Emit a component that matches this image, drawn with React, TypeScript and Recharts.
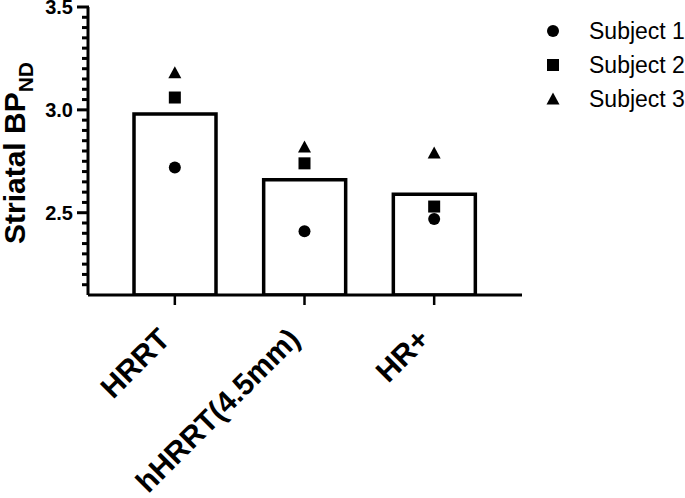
import React from 'react';
import {
  ComposedChart,
  Bar,
  Scatter,
  XAxis,
  YAxis,
  Legend,
} from 'recharts';

const categories = ['HRRT', 'hHRRT(4.5mm)', 'HR+'];
const meanValues = [2.98, 2.66, 2.59];
const subject1 = [2.72, 2.41, 2.47];
const subject2 = [3.06, 2.74, 2.53];
const subject3 = [3.18, 2.82, 2.79];

const yTicks = [
  2.15, 2.2, 2.25, 2.3, 2.35, 2.4, 2.45, 2.5, 2.55, 2.6, 2.65, 2.7, 2.75, 2.8,
  2.85, 2.9, 2.95, 3.0, 3.05, 3.1, 3.15, 3.2, 3.25, 3.3, 3.35, 3.4, 3.45, 3.5,
];
const majorTicks = [2.5, 3.0, 3.5];
const legendLabels = ['Subject 1', 'Subject 2', 'Subject 3'];

const FONT = '"Liberation Sans", Arial, Helvetica, sans-serif';

const data = categories.map((name, i) => ({
  name,
  mean: meanValues[i],
  s1: subject1[i],
  s2: subject2[i],
  s3: subject3[i],
}));

const isMajor = (v: number) => majorTicks.some((m) => Math.abs(m - v) < 1e-6);

// marker shapes
const CircleMark = ({ cx, cy }: any) => <circle cx={cx} cy={cy} r={6} fill="#000" />;
const SquareMark = ({ cx, cy }: any) => (
  <rect x={cx - 6} y={cy - 6} width={12} height={12} fill="#000" />
);
const TriangleMark = ({ cx, cy }: any) => (
  <path d={`M${cx},${cy - 6.5} L${cx + 6.5},${cy + 5.5} L${cx - 6.5},${cy + 5.5} Z`} fill="#000" />
);
const markers = [CircleMark, SquareMark, TriangleMark];

// long labelled major ticks, short minor ticks every 0.05
const renderYTick = (props: any) => {
  const x = Number(props.x);
  const y = Number(props.y);
  const value = Number(props.payload.value);
  const major = isMajor(value);
  const len = major ? 11 : 6;
  return (
    <g key={`yt-${value}`}>
      <rect x={x + 15 - len} y={y - 1.5} width={len + 1} height={3} fill="#000" />
      {major && (
        <text
          x={x}
          y={y}
          dy={7}
          textAnchor="end"
          fontFamily={FONT}
          fontWeight="bold"
          fontSize={20}
          fill="#000"
        >
          {value.toFixed(1)}
        </text>
      )}
    </g>
  );
};

const renderXTick = (props: any) => {
  const x = Number(props.x);
  const y = Number(props.y);
  return (
    <text
      key={`xt-${props.payload.value}`}
      transform={`translate(${x - 3}, ${y + 34}) rotate(-45)`}
      textAnchor="end"
      fontFamily={FONT}
      fontWeight="bold"
      fontSize={30}
      fill="#000"
    >
      {props.payload.value}
    </text>
  );
};

const YLabel = ({ viewBox }: any) => {
  const cx = viewBox.x + 25;
  const cy = viewBox.y + viewBox.height / 2 + 2;
  return (
    <text
      transform={`translate(${cx}, ${cy}) rotate(-90)`}
      textAnchor="middle"
      fontFamily={FONT}
      fontWeight="bold"
      fontSize={30}
      fill="#000"
    >
      Striatal BP
      <tspan fontSize={21} dy={8}>
        ND
      </tspan>
    </text>
  );
};

const LegendContent = () => (
  <div style={{ fontFamily: FONT, fontSize: 23, color: '#000' }}>
    {legendLabels.map((label, i) => {
      const Mark = markers[i];
      return (
        <div key={label} style={{ display: 'flex', alignItems: 'center', height: 34 }}>
          <svg width={26} height={20} style={{ marginRight: 23 }}>
            <Mark cx={13} cy={10} />
          </svg>
          <span>{label}</span>
        </div>
      );
    })}
  </div>
);

export default function App() {
  return (
    <div style={{ position: 'absolute', left: 0, top: 0, background: '#fff' }}>
      <ComposedChart
        width={685}
        height={498}
        data={data}
        margin={{ top: 7, right: 163, bottom: 0, left: 0 }}
      >
        <XAxis
          dataKey="name"
          height={203}
          padding={{ left: 22, right: 23 }}
          axisLine={{ stroke: '#000', strokeWidth: 3 }}
          tickLine={{ stroke: '#000', strokeWidth: 2.5 }}
          tickSize={10}
          tick={renderXTick}
          interval={0}
        />
        <YAxis
          width={88}
          domain={[2.1, 3.5]}
          ticks={yTicks}
          interval={0}
          allowDataOverflow
          axisLine={{ stroke: '#000', strokeWidth: 3 }}
          tickLine={false}
          tickSize={11}
          tickMargin={4}
          tick={renderYTick}
          label={<YLabel />}
        />
        <Legend
          layout="vertical"
          align="center"
          verticalAlign="middle"
          wrapperStyle={{ left: 540, top: 14, width: 145 }}
          content={<LegendContent />}
        />
        <Bar
          dataKey="mean"
          barSize={82}
          fill="#fff"
          stroke="#000"
          strokeWidth={3.5}
          isAnimationActive={false}
        />
        <Scatter dataKey="s1" shape={<CircleMark />} isAnimationActive={false} />
        <Scatter dataKey="s2" shape={<SquareMark />} isAnimationActive={false} />
        <Scatter dataKey="s3" shape={<TriangleMark />} isAnimationActive={false} />
      </ComposedChart>
    </div>
  );
}
